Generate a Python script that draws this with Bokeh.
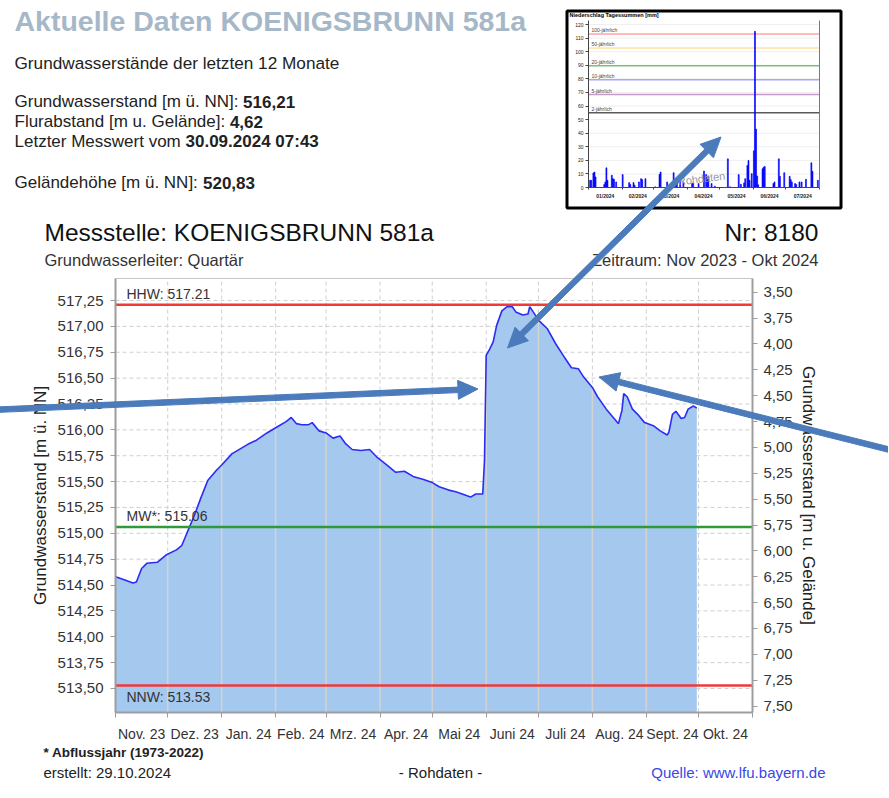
import math
import numpy as np
import pandas as pd
from bokeh.plotting import figure
from bokeh.models import Range1d, LinearAxis, DatetimeAxis, FixedTicker, Label
from bokeh.embed import file_html
from bokeh.resources import INLINE
from bokeh.core.properties import value

FONT = "Liberation Sans"

# ---------------- data: groundwater level (m ü. NN) ----------------
GW_DATES = [
    "2023-11-01", "2023-11-06", "2023-11-11", "2023-11-13", "2023-11-16", "2023-11-19",
    "2023-11-25", "2023-11-30", "2023-12-06", "2023-12-09", "2023-12-11", "2023-12-13",
    "2023-12-16", "2023-12-20", "2023-12-24", "2023-12-29", "2024-01-01", "2024-01-07",
    "2024-01-09", "2024-01-16", "2024-01-21", "2024-01-27", "2024-02-02", "2024-02-07",
    "2024-02-10", "2024-02-13", "2024-02-16", "2024-02-20", "2024-02-22", "2024-02-26",
    "2024-03-01", "2024-03-05", "2024-03-09", "2024-03-12", "2024-03-16", "2024-03-21",
    "2024-03-26", "2024-03-30", "2024-04-05", "2024-04-10", "2024-04-15", "2024-04-20",
    "2024-04-26", "2024-05-01", "2024-05-05", "2024-05-10", "2024-05-15", "2024-05-23",
    "2024-05-26", "2024-05-30", "2024-05-31", "2024-06-01", "2024-06-03", "2024-06-05",
    "2024-06-07", "2024-06-10", "2024-06-13", "2024-06-16", "2024-06-18", "2024-06-22",
    "2024-06-25", "2024-06-26", "2024-06-28", "2024-07-01", "2024-07-06", "2024-07-11",
    "2024-07-16", "2024-07-20", "2024-07-24", "2024-07-27", "2024-08-01", "2024-08-04",
    "2024-08-09", "2024-08-13", "2024-08-16", "2024-08-18", "2024-08-19", "2024-08-21",
    "2024-08-24", "2024-08-27", "2024-08-31", "2024-09-05", "2024-09-09", "2024-09-13",
    "2024-09-14", "2024-09-16", "2024-09-18", "2024-09-21", "2024-09-23", "2024-09-25",
    "2024-09-28", "2024-09-30",
]
GW_LEVELS = [
    514.58, 514.55, 514.52, 514.53, 514.66, 514.71,
    514.72, 514.79, 514.84, 514.88, 514.96, 515.04,
    515.16, 515.34, 515.51, 515.61, 515.66, 515.77,
    515.79, 515.86, 515.90, 515.97, 516.03, 516.08,
    516.12, 516.06, 516.05, 516.05, 516.07, 515.99,
    515.97, 515.92, 515.94, 515.87, 515.81, 515.80,
    515.81, 515.74, 515.66, 515.59, 515.60, 515.55,
    515.52, 515.49, 515.45, 515.42, 515.40, 515.35,
    515.38, 515.38, 515.70, 516.72, 516.78, 516.85,
    517.01, 517.15, 517.19, 517.19, 517.14, 517.11,
    517.12, 517.19, 517.14, 517.06, 516.98, 516.83,
    516.70, 516.60, 516.59, 516.51, 516.41, 516.32,
    516.20, 516.12, 516.06, 516.19, 516.35, 516.32,
    516.20, 516.15, 516.07, 516.04, 515.99, 515.95,
    515.98, 516.15, 516.18, 516.11, 516.12, 516.20,
    516.23, 516.21,
]
LAST_TIME = "07:43"

HHW = 517.21
MW = 515.06
NNW = 513.53
GELAENDE = 520.83

LEFT_TICKS = [513.50, 513.75, 514.00, 514.25, 514.50, 514.75, 515.00, 515.25,
              515.50, 515.75, 516.00, 516.25, 516.50, 516.75, 517.00, 517.25]
LEFT_TICK_LABELS = ["513,50", "513,75", "514,00", "514,25", "514,50", "514,75", "515,00", "515,25",
                    "515,50", "515,75", "516,00", "516,25", "516,50", "516,75", "517,00", "517,25"]
RIGHT_TICKS = [3.50, 3.75, 4.00, 4.25, 4.50, 4.75, 5.00, 5.25, 5.50,
               5.75, 6.00, 6.25, 6.50, 6.75, 7.00, 7.25, 7.50]
RIGHT_TICK_LABELS = ["3,50", "3,75", "4,00", "4,25", "4,50", "4,75", "5,00", "5,25", "5,50",
                     "5,75", "6,00", "6,25", "6,50", "6,75", "7,00", "7,25", "7,50"]
MONTH_STARTS = ["2023-11-01", "2023-12-01", "2024-01-01", "2024-02-01", "2024-03-01",
                "2024-04-01", "2024-05-01", "2024-06-01", "2024-07-01", "2024-08-01",
                "2024-09-01", "2024-10-01", "2024-11-01"]
MONTH_LABELS = ["Nov. 23", "Dez. 23", "Jan. 24", "Feb. 24", "Mrz. 24", "Apr. 24",
                "Mai 24", "Juni 24", "Juli 24", "Aug. 24", "Sept. 24", "Okt. 24"]

# ---------------- data: inset precipitation (mm/day) ----------------
RAIN_DATES = [
    "2024-01-02", "2024-01-03", "2024-01-05", "2024-01-06", "2024-01-07", "2024-01-15",
    "2024-01-16", "2024-01-17", "2024-01-18", "2024-01-22", "2024-01-23", "2024-01-24",
    "2024-01-26", "2024-02-01", "2024-02-07", "2024-02-08", "2024-02-11", "2024-02-12",
    "2024-02-16", "2024-02-18", "2024-02-19", "2024-02-22", "2024-03-02", "2024-03-06",
    "2024-03-07", "2024-03-13", "2024-03-15", "2024-03-19", "2024-03-21", "2024-03-22",
    "2024-03-25", "2024-03-28", "2024-04-05", "2024-04-06", "2024-04-11", "2024-04-16",
    "2024-04-18", "2024-04-19", "2024-04-20", "2024-04-23", "2024-04-26", "2024-05-08",
    "2024-05-10", "2024-05-18", "2024-05-20", "2024-05-23", "2024-05-24", "2024-05-26",
    "2024-05-27", "2024-05-28", "2024-05-30", "2024-06-01", "2024-06-02", "2024-06-03",
    "2024-06-04", "2024-06-05", "2024-06-09", "2024-06-10", "2024-06-11", "2024-06-19",
    "2024-06-20", "2024-06-24", "2024-06-25", "2024-06-29", "2024-07-04", "2024-07-05",
    "2024-07-06", "2024-07-09", "2024-07-10", "2024-07-13", "2024-07-15", "2024-07-19",
    "2024-07-24", "2024-07-25", "2024-07-30",
]
RAIN_MM = [
    5.3, 5.3, 10.7, 11.4, 7.8, 2.2,
    4.1, 14.5, 5.3, 9.0, 6.5, 6.0,
    4.1, 9.5, 3.6, 2.2, 3.6, 1.7,
    4.1, 6.5, 5.8, 6.5, 0.5, 9.7,
    11.4, 4.1, 1.7, 10.9, 6.5, 5.3,
    5.3, 4.0, 2.9, 3.4, 2.9, 12.1,
    9.5, 5.8, 8.5, 2.9, 1.0, 21.1,
    0.5, 9.5, 2.4, 3.4, 6.5, 16.2,
    19.9, 5.3, 10.2, 27.0, 115.0, 43.0,
    8.5, 2.0, 13.8, 15.0, 15.5, 2.9,
    4.1, 21.1, 8.2, 10.9, 8.2, 5.8,
    4.1, 2.9, 2.2, 4.1, 4.1, 6.0,
    18.2, 11.9, 5.3,
]
RETURN_LEVELS = [113.1, 102.8, 89.7, 79.4, 68.5, 55.1]
RETURN_LABELS = ["100-jährlich", "50-jährlich", "20-jährlich", "10-jährlich", "5-jährlich", "2-jährlich"]
RETURN_COLORS = ["#ffa3a3", "#ffe3a0", "#78c078", "#a3a8ff", "#c898c8", "#5a5a5a"]
INSET_MONTH_STARTS = ["2024-01-01", "2024-02-01", "2024-03-01", "2024-04-01",
                      "2024-05-01", "2024-06-01", "2024-07-01", "2024-08-01"]
INSET_MONTH_LABELS = ["01/2024", "02/2024", "03/2024", "04/2024", "05/2024", "06/2024", "07/2024"]
INSET_Y_TICKS = [0, 10, 20, 30, 40, 50, 60, 70, 80, 90, 100, 110, 120]


def to_ms(dates):
    return pd.to_datetime(dates).values.astype("datetime64[ms]").astype(np.int64).astype(float)


def de_num(v):
    return f"{v:.2f}".replace(".", ",")


# ---------------- layout (page pixels; the canvas starts at the page origin) ----------------
W, H = 888, 796
PX0, PX1 = 0, W
PY0, PY1 = 0, H
MF_L, MF_R, MF_T, MF_B = 115, 752, 278, 712     # main chart area
IF_L, IF_R, IF_T, IF_B = 588, 819, 20, 187      # inset chart area

gw_ms = to_ms(GW_DATES)
levels = np.array(GW_LEVELS)
month_ms = to_ms(MONTH_STARTS)
mid_ms = (month_ms[:-1] + month_ms[1:]) / 2
X_START, X_END = month_ms[0], month_ms[-1]
Y_START, Y_END = 513.268, 517.463

xs_px = (X_END - X_START) / (MF_R - MF_L)
ys_px = (Y_END - Y_START) / (MF_B - MF_T)
x_range = Range1d(X_START - (MF_L - PX0) * xs_px, X_END + (PX1 - MF_R) * xs_px)
y_range = Range1d(Y_START - (PY1 - MF_B) * ys_px, Y_END + (MF_T - PY0) * ys_px)

rain_ms = to_ms(RAIN_DATES)
imonth_ms = to_ms(INSET_MONTH_STARTS)
imid_ms = (imonth_ms[:-1] + imonth_ms[1:]) / 2
IX0, IX1 = imonth_ms[0], imonth_ms[-1]
IY0, IY1 = 0.0, 123.0
ix_px = (IX1 - IX0) / (IF_R - IF_L)
iy_px = (IY1 - IY0) / (IF_B - IF_T)
DAY = 86400000.0

p = figure(width=W, height=H, x_range=x_range, y_range=y_range,
           x_axis_location=None, y_axis_location=None, min_border=0,
           output_backend="svg", toolbar_location=None)
p.extra_x_ranges = {"px": Range1d(PX0, PX1),
                    "ix": Range1d(IX0 - (IF_L - PX0) * ix_px, IX1 + (PX1 - IF_R) * ix_px)}
p.extra_y_ranges = {"py": Range1d(PY1, PY0),
                    "depth": Range1d(GELAENDE - y_range.start, GELAENDE - y_range.end),
                    "iy": Range1d(IY0 - (PY1 - IF_B) * iy_px, IY1 + (IF_T - PY0) * iy_px)}
p.outline_line_color = None
p.background_fill_color = "white"
p.border_fill_color = "white"
p.xgrid.visible = False
p.ygrid.visible = False

# ---------------- main chart ----------------
GRID_COL = "#cfcfcf"
p.segment(x0=month_ms, y0=[Y_START] * len(month_ms), x1=month_ms, y1=[Y_END] * len(month_ms),
          line_color=GRID_COL, line_dash="4 3", line_width=1)
p.segment(x0=[X_START] * len(LEFT_TICKS), y0=LEFT_TICKS, x1=[X_END] * len(LEFT_TICKS), y1=LEFT_TICKS,
          line_color=GRID_COL, line_dash="4 3", line_width=1)

p.varea(x=gw_ms, y1=Y_START, y2=levels, fill_color="#a5c8ef")
inner = month_ms[(month_ms > gw_ms[0]) & (month_ms <= gw_ms[-1])]
inner_lv = np.interp(inner, gw_ms, levels)
p.segment(x0=inner, y0=[Y_START] * len(inner), x1=inner, y1=inner_lv,
          line_color="#d3d3d3", line_width=1.5)
p.line(gw_ms, levels, line_color="#2c2cf2", line_width=1.6)
p.segment(x0=[X_START] * 3, y0=[HHW, MW, NNW], x1=[X_END] * 3, y1=[HHW, MW, NNW],
          line_color=["#f03a3a", "#2f9a3a", "#f03a3a"], line_width=2.5)
p.text(x=[X_START, X_START], y=[HHW, MW],
       text=[f"HHW: {HHW:.2f}", f"MW*: {MW:.2f}"],
       x_offset=11, y_offset=-3, text_baseline="bottom", text_align="left",
       text_font=value(FONT), text_font_size="14px", text_color="#333333")
p.text(x=[X_START], y=[NNW], text=[f"NNW: {NNW:.2f}"],
       x_offset=11, y_offset=4, text_baseline="top", text_align="left",
       text_font=value(FONT), text_font_size="14px", text_color="#333333")

AX_COL = "#9d9d9d"


def style_axis(ax, size):
    ax.axis_line_color = AX_COL
    ax.axis_line_width = 2
    ax.major_tick_line_color = AX_COL
    ax.major_tick_out = 5
    ax.major_tick_in = 0
    ax.minor_tick_line_color = None
    ax.major_label_text_font = FONT
    ax.major_label_text_font_size = size
    ax.major_label_text_color = "#333333"
    ax.axis_label_text_font = FONT
    ax.axis_label_text_font_size = "17px"
    ax.axis_label_text_font_style = "normal"
    ax.axis_label_text_color = "#222222"


lax = LinearAxis(fixed_location=X_START, bounds=(Y_START, Y_END))
style_axis(lax, "15px")
lax.ticker = FixedTicker(ticks=LEFT_TICKS)
lax.major_label_overrides = {float(t): s for t, s in zip(LEFT_TICKS, LEFT_TICK_LABELS)}
lax.axis_label = "Grundwasserstand [m ü. NN]"
lax.major_label_standoff = 7
lax.axis_label_standoff = 5
p.add_layout(lax, "left")

bax = DatetimeAxis(fixed_location=Y_START, bounds=(X_START, X_END))
style_axis(bax, "14px")
bax.ticker = FixedTicker(ticks=list(mid_ms), minor_ticks=list(month_ms))
bax.major_label_overrides = {float(t): s for t, s in zip(mid_ms, MONTH_LABELS)}
bax.major_tick_out = 0
bax.minor_tick_line_color = AX_COL
bax.minor_tick_out = 5
bax.minor_tick_in = 0
bax.major_label_standoff = 8
p.add_layout(bax, "below")

rax = LinearAxis(y_range_name="depth", fixed_location=X_END,
                 bounds=(GELAENDE - Y_END, GELAENDE - Y_START))
style_axis(rax, "15px")
rax.ticker = FixedTicker(ticks=RIGHT_TICKS)
rax.major_label_overrides = {float(t): s for t, s in zip(RIGHT_TICKS, RIGHT_TICK_LABELS)}
rax.axis_label = "Grundwasserstand [m u. Gelände]"
rax.major_label_standoff = 6
rax.axis_label_standoff = 3
p.add_layout(rax, "right")

tax = DatetimeAxis(fixed_location=Y_END, bounds=(X_START, X_END), ticker=FixedTicker(ticks=[]))
tax.axis_line_color = "#c6c6c6"
tax.axis_line_width = 1
tax.major_tick_line_color = None
tax.minor_tick_line_color = None
p.add_layout(tax, "above")

# ---------------- precipitation inset ----------------
p.segment(x0=[IX0] * len(INSET_Y_TICKS), y0=INSET_Y_TICKS, x1=[IX1] * len(INSET_Y_TICKS), y1=INSET_Y_TICKS,
          x_range_name="ix", y_range_name="iy", line_color="#efefef", line_width=1)
p.segment(x0=[IX0] * len(RETURN_LEVELS), y0=RETURN_LEVELS, x1=[IX1] * len(RETURN_LEVELS), y1=RETURN_LEVELS,
          x_range_name="ix", y_range_name="iy", line_color=RETURN_COLORS, line_width=1.4)
p.vbar(x=rain_ms + DAY / 2, top=RAIN_MM, width=0.9 * DAY, x_range_name="ix", y_range_name="iy",
       fill_color="#0000ff", line_color="#0000ff", line_width=0.6)
p.text(x=[IX0] * len(RETURN_LEVELS), y=RETURN_LEVELS, text=RETURN_LABELS,
       x_range_name="ix", y_range_name="iy",
       x_offset=3, y_offset=-0.5, text_baseline="bottom", text_align="left",
       text_font=value(FONT), text_font_size="5px", text_color="#444444")

iyax = LinearAxis(x_range_name="ix", y_range_name="iy", fixed_location=IX0, bounds=(IY0, IY1))
iyax.ticker = FixedTicker(ticks=INSET_Y_TICKS)
iyax.major_label_text_font = FONT
iyax.major_label_text_font_size = "5px"
iyax.major_label_text_color = "#222222"
iyax.major_tick_out = 3
iyax.major_tick_in = 0
iyax.minor_tick_line_color = None
iyax.axis_line_color = "#444444"
iyax.major_tick_line_color = "#444444"
iyax.major_label_standoff = 2
p.add_layout(iyax, "left")

ixax = DatetimeAxis(x_range_name="ix", y_range_name="iy", fixed_location=IY0, bounds=(IX0, IX1))
ixax.ticker = FixedTicker(ticks=list(imid_ms), minor_ticks=list(imonth_ms))
ixax.major_label_overrides = {float(t): s for t, s in zip(imid_ms, INSET_MONTH_LABELS)}
ixax.major_label_text_font = FONT
ixax.major_label_text_font_size = "5px"
ixax.major_label_text_font_style = "bold"
ixax.major_label_text_color = "#222222"
ixax.major_tick_out = 0
ixax.major_tick_in = 0
ixax.minor_tick_out = 2
ixax.minor_tick_in = 0
ixax.minor_tick_line_color = "#444444"
ixax.axis_line_color = "#444444"
ixax.major_label_standoff = 3
p.add_layout(ixax, "below")

irax = LinearAxis(x_range_name="ix", y_range_name="iy", fixed_location=IX1, bounds=(IY0, IY1),
                  ticker=FixedTicker(ticks=[]))
irax.axis_line_color = "#7a7a7a"
irax.major_tick_line_color = None
irax.minor_tick_line_color = None
p.add_layout(irax, "right")

# inset border (page coordinates)
p.quad(left=[566.5], right=[840.5], top=[10.5], bottom=[207.5],
       x_range_name="px", y_range_name="py", fill_alpha=0.0,
       line_color="#000000", line_width=3)


def add_label(x, y, text, size, color="#222222", style="normal", align="left", angle=0.0):
    # y is the vertical centre of the text line, in page pixels
    p.add_layout(Label(x=x, y=y, x_range_name="px", y_range_name="py", text=text,
                       text_font=FONT, text_font_size=size, text_color=color,
                       text_font_style=style, text_align=align, text_baseline="middle",
                       angle=angle))


add_label(569, 14.5, "Niederschlag Tagessummen [mm]", "5.5px", "#000000", style="bold")
add_label(701, 178, "Rohdaten", "11px", "#9a9a9a", align="center", angle=0.12)

# ---------------- texts ----------------
last_level = GW_LEVELS[-1]
last_date = pd.Timestamp(GW_DATES[-1]).strftime("%d.%m.%Y")
add_label(14, 20.5, "Aktuelle Daten KOENIGSBRUNN 581a", "28.5px", "#a6b8c8", style="bold")
add_label(14, 62, "Grundwasserstände der letzten 12 Monate", "17.2px")
add_label(14, 101, "Grundwasserstand [m ü. NN]:", "17px")
add_label(14 + 228.6, 101, de_num(last_level), "17px", style="bold")
add_label(14, 121, "Flurabstand [m u. Gelände]:", "17px")
add_label(14 + 215.4, 121, de_num(GELAENDE - last_level), "17px", style="bold")
add_label(14, 141, "Letzter Messwert vom", "17px")
add_label(14 + 171.0, 141, f"{last_date} {LAST_TIME}", "17px", style="bold")
add_label(14, 182, "Geländehöhe [m ü. NN]:", "17px")
add_label(14 + 188.5, 182, de_num(GELAENDE), "17px", style="bold")

add_label(44, 232, "Messstelle: KOENIGSBRUNN 581a", "24.5px", "#111111")
add_label(818, 232, "Nr: 8180", "24.5px", "#111111", align="right")
add_label(44, 259, "Grundwasserleiter: Quartär", "16.5px", "#333333")
add_label(818, 259, "Zeitraum: Nov 2023 - Okt 2024", "16.5px", "#333333", align="right")
add_label(43, 752, "* Abflussjahr (1973-2022)", "13.5px", "#222222", style="bold")
add_label(43, 772, "erstellt:  29.10.2024", "15px", "#222222")
add_label(440, 772, "- Rohdaten -", "15px", "#222222", align="center")
add_label(825, 772, "Quelle: www.lfu.bayern.de", "15px", "#3a46e6", align="right")

# ---------------- arrows (page coordinates) ----------------
ARROW_COLOR = "#4b7bbb"


def arrow_poly(x0, y0, x1, y1, shaft=5.5, head_len=20.0, head_w=19.0, start_head=False, end_head=True):
    dx, dy = x1 - x0, y1 - y0
    L = math.hypot(dx, dy)
    ux, uy = dx / L, dy / L
    nx, ny = -uy, ux
    b0 = (x0 + ux * head_len, y0 + uy * head_len) if start_head else (x0, y0)
    b1 = (x1 - ux * head_len, y1 - uy * head_len) if end_head else (x1, y1)
    hs, hh = shaft / 2, head_w / 2
    pts = [(b0[0] + nx * hs, b0[1] + ny * hs), (b1[0] + nx * hs, b1[1] + ny * hs)]
    if end_head:
        pts += [(b1[0] + nx * hh, b1[1] + ny * hh), (x1, y1), (b1[0] - nx * hh, b1[1] - ny * hh)]
    pts += [(b1[0] - nx * hs, b1[1] - ny * hs), (b0[0] - nx * hs, b0[1] - ny * hs)]
    if start_head:
        pts += [(b0[0] - nx * hh, b0[1] - ny * hh), (x0, y0), (b0[0] + nx * hh, b0[1] + ny * hh)]
    return [q[0] for q in pts], [q[1] for q in pts]


ARROWS = [
    arrow_poly(720.5, 136.5, 507.0, 347.5, start_head=True, end_head=True),
    arrow_poly(-10.0, 409.5, 477.5, 388.5),
    arrow_poly(900.0, 452.0, 598.5, 376.5),
]
p.patches(xs=[a[0] for a in ARROWS], ys=[a[1] for a in ARROWS],
          x_range_name="px", y_range_name="py",
          fill_color=ARROW_COLOR, line_color=ARROW_COLOR, line_width=1, level="overlay")

with open("out.html", "w") as f:
    f.write(file_html(p, INLINE))
